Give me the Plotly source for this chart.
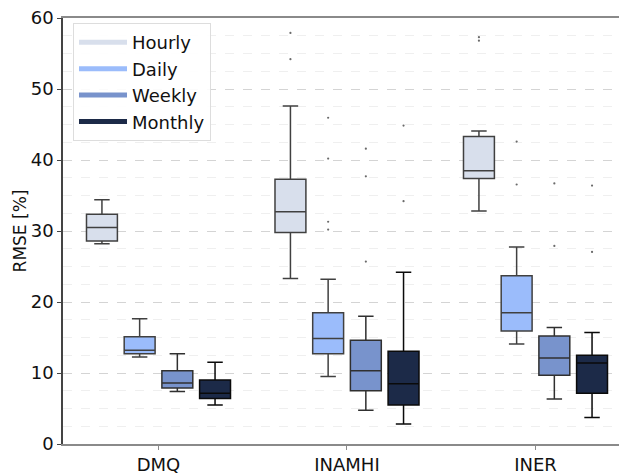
import plotly.graph_objects as go

stations = ["DMQ", "INAMHI", "INER"]
scales = ["Hourly", "Daily", "Weekly", "Monthly"]
colors = ["#d8dfec", "#9bbcfb", "#7893cc", "#1c2a48"]
edge_colors = ["#404040", "#404040", "#303030", "#0a0a0a"]

# box statistics per scale, one value per station (DMQ, INAMHI, INER)
upper = {
    "Hourly": [34.4, 47.6, 44.1],
    "Daily": [17.65, 23.2, 27.75],
    "Weekly": [12.7, 18.0, 16.4],
    "Monthly": [11.5, 24.2, 15.7],
}
q3 = {
    "Hourly": [32.35, 37.3, 43.3],
    "Daily": [15.1, 18.5, 23.7],
    "Weekly": [10.3, 14.6, 15.2],
    "Monthly": [9.0, 13.05, 12.5],
}
median = {
    "Hourly": [30.5, 32.7, 38.5],
    "Daily": [13.2, 14.85, 18.5],
    "Weekly": [8.6, 10.3, 12.1],
    "Monthly": [7.15, 8.5, 11.4],
}
q1 = {
    "Hourly": [28.6, 29.8, 37.4],
    "Daily": [12.7, 12.7, 15.9],
    "Weekly": [7.9, 7.5, 9.7],
    "Monthly": [6.4, 5.5, 7.15],
}
lower = {
    "Hourly": [28.2, 23.3, 32.8],
    "Daily": [12.25, 9.5, 14.1],
    "Weekly": [7.4, 4.75, 6.35],
    "Monthly": [5.5, 2.8, 3.75],
}
# outliers: (station index, value)
outliers = {
    "Hourly": [(1, 57.9), (1, 54.2), (2, 57.3), (2, 56.8)],
    "Daily": [(1, 45.95), (1, 40.2), (1, 31.3), (1, 30.2), (2, 42.6), (2, 36.55)],
    "Weekly": [(1, 41.6), (1, 37.7), (1, 25.7), (2, 36.7), (2, 27.9)],
    "Monthly": [(1, 44.85), (1, 34.2), (2, 36.4), (2, 27.05)],
}

offsets = [-0.3, -0.1, 0.1, 0.3]
box_width = 0.164

fig = go.Figure()
for k, s in enumerate(scales):
    xs = [i + offsets[k] for i in range(len(stations))]
    fig.add_trace(go.Box(
        x=xs, q1=q1[s], median=median[s], q3=q3[s],
        lowerfence=lower[s], upperfence=upper[s],
        width=box_width, whiskerwidth=0.5,
        fillcolor=colors[k], line=dict(color=edge_colors[k], width=1.5),
        boxpoints=False, showlegend=False, name=s, hoverinfo="skip",
    ))
    fig.add_trace(go.Scatter(
        x=[st + offsets[k] for st, v in outliers[s]],
        y=[v for st, v in outliers[s]],
        mode="markers", marker=dict(size=2.2, color="#6a6a6a"),
        showlegend=False, hoverinfo="skip",
    ))
for k, s in enumerate(scales):
    fig.add_trace(go.Scatter(
        x=[None], y=[None], mode="lines", name=s,
        line=dict(color=colors[k], width=5),
    ))

fig.update_layout(
    width=619, height=475,
    margin=dict(l=63, r=0, t=18, b=23),
    plot_bgcolor="white", paper_bgcolor="white",
    font=dict(family="DejaVu Sans", size=18, color="#222222"),
    boxmode="overlay",
    legend=dict(
        x=0.018, y=0.988, xanchor="left", yanchor="top",
        bgcolor="rgba(255,255,255,0.9)", bordercolor="#dddddd", borderwidth=1,
        font=dict(size=18, color="#111111"), itemwidth=48,
    ),
    xaxis=dict(
        range=[-0.5066, 2.443], tickvals=[0, 1, 2], ticktext=stations,
        showgrid=False, zeroline=False,
        showline=True, linecolor="#8a8a8a", linewidth=1.5, mirror=True,
        ticks="outside", ticklen=4, tickcolor="#8a8a8a",
        tickfont=dict(size=18, color="#111111"),
    ),
    yaxis=dict(
        range=[0, 60], dtick=10, tick0=0,
        showgrid=True, gridcolor="#d4d4d4", griddash="dash", gridwidth=1,
        minor=dict(dtick=2.5, showgrid=True, gridcolor="#efefef", gridwidth=1),
        zeroline=False,
        showline=True, linecolor="#444444", linewidth=1.5,
        ticks="outside", ticklen=4, tickcolor="#444444",
        tickfont=dict(size=18, color="#111111"),
        title=dict(text="RMSE [%]", font=dict(size=17, color="#111111"), standoff=0),
    ),
)

fig.write_html("out.html")
